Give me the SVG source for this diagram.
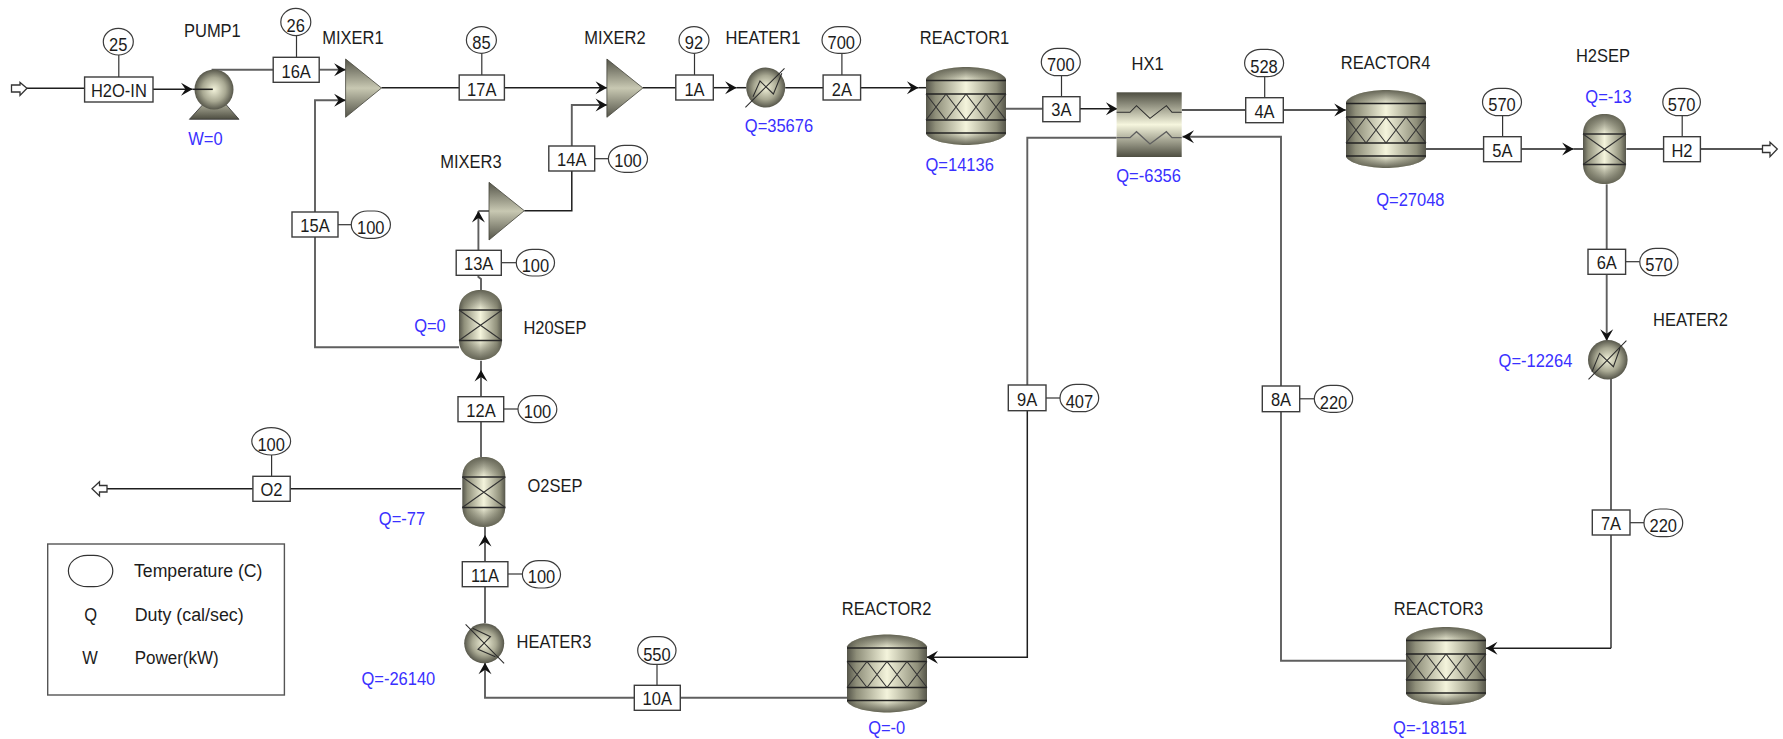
<svg xmlns="http://www.w3.org/2000/svg" xmlns:xlink="http://www.w3.org/1999/xlink" width="1783" height="739" viewBox="0 0 1783 739">
<style>
text{font-family:"Liberation Sans",Arial,sans-serif;font-size:16.5px;fill:#1c1c1c;transform-box:fill-box;transform-origin:center;transform:scale(1,1.1)}
.m{text-anchor:middle}
.q{text-anchor:middle;fill:#3a30ff}
.b{fill:#fff;stroke:#3c3c3c;stroke-width:1.4}
.o{fill:#fff;stroke:#3c3c3c;stroke-width:1.2}
.k,.g,.f{fill:none;stroke-linejoin:miter}
.k{stroke:#1e1e1e;stroke-width:1.5}
.g{stroke:#5f5f5f;stroke-width:1.9}
.f{stroke:#333;stroke-width:1.2}
.n{fill:none;stroke:#2c2c2c;stroke-width:1.05}
.a{fill:#fff;stroke:#333;stroke-width:1.3}
</style>
<defs>
<marker id="ah" viewBox="-13 -8 14 16" refX="0" refY="0" markerWidth="14" markerHeight="16" orient="auto" markerUnits="userSpaceOnUse"><path d="M0,0 L-11.5,-6.5 L-7,0 L-11.5,6.5 Z" fill="#111"/></marker>
<linearGradient id="h" x1="0" x2="1" y1="0" y2="0"><stop offset="0" stop-color="#55554a"/><stop offset=".12" stop-color="#8f8f7a"/><stop offset=".5" stop-color="#f4f4dc"/><stop offset=".88" stop-color="#8f8f7a"/><stop offset="1" stop-color="#55554a"/></linearGradient>
<linearGradient id="dt" x1="0" x2="0" y1="0" y2="1"><stop offset="0" stop-color="#5a5a4c" stop-opacity=".95"/><stop offset="1" stop-color="#5a5a4c" stop-opacity="0"/></linearGradient>
<linearGradient id="db" x1="0" x2="0" y1="1" y2="0"><stop offset="0" stop-color="#5a5a4c" stop-opacity=".95"/><stop offset="1" stop-color="#5a5a4c" stop-opacity="0"/></linearGradient>
<linearGradient id="v" x1="0" x2="0" y1="0" y2="1"><stop offset="0" stop-color="#4e4e42"/><stop offset=".5" stop-color="#f6f6de"/><stop offset="1" stop-color="#4e4e42"/></linearGradient>
<linearGradient id="pb" x1="0" x2="0" y1="0" y2="1"><stop offset="0" stop-color="#c4c4ae"/><stop offset="1" stop-color="#4e4e42"/></linearGradient>
<linearGradient id="tr" x1="0" x2="0" y1="0" y2="1"><stop offset="0" stop-color="#55554a"/><stop offset=".5" stop-color="#c8c8b2"/><stop offset="1" stop-color="#55554a"/></linearGradient>
<radialGradient id="r"><stop offset="0" stop-color="#f2f2da"/><stop offset=".6" stop-color="#a8a892"/><stop offset="1" stop-color="#57574b"/></radialGradient>
<g id="reactor">
<path d="M0,12 C4,4 24,0 40,0 C56,0 76,4 80,12 L80,67 C76,74 56,78 40,78 C24,78 4,74 0,67 Z" fill="url(#h)"/>
<path d="M0,12 C4,4 24,0 40,0 C56,0 76,4 80,12 L80,14 H0 Z" fill="url(#dt)"/>
<path d="M0,67 C4,74 24,78 40,78 C56,78 76,74 80,67 L80,66 H0 Z" fill="url(#db)"/>
<path d="M0,13.5 H80 M0,27 H80 M0,53 H80 M0,66 H80" stroke="#222" stroke-width="1.4" fill="none"/>
<path d="M0,27 L20,53 M20,27 L0,53 M20,27 L40,53 M40,27 L20,53 M40,27 L60,53 M60,27 L40,53 M60,27 L80,53 M80,27 L60,53" stroke="#333" stroke-width="1.1" fill="none"/>
</g>
<g id="vessel">
<path d="M0,20 C0,7 10,0 21.5,0 C33,0 43,7 43,20 L43,50 C43,63 33,70 21.5,70 C10,70 0,63 0,50 Z" fill="url(#h)"/>
<path d="M0,20 C0,7 10,0 21.5,0 C33,0 43,7 43,20 Z" fill="url(#dt)"/>
<path d="M0,50 C0,63 10,70 21.5,70 C33,70 43,63 43,50 Z" fill="url(#db)"/>
<path d="M0,20 H43 M0,50.5 H43" stroke="#2a2a2a" stroke-width="1.4" fill="none"/>
<path d="M0,20 L43,50.5 M43,20 L0,50.5" stroke="#333" stroke-width="1.1" fill="none"/>
</g>
</defs>

<g id="connectors">
<path class="k" d="M27,88.3 H84.6"/>
<path class="k" d="M153,89.3 H192.5" marker-end="url(#ah)"/>
<path class="g" d="M211.6,69.7 H273.2"/>
<path class="g" d="M319.2,69.7 H345.6" marker-end="url(#ah)"/>
<path class="g" d="M315,212 V100.3 H345.6" marker-end="url(#ah)"/>
<path class="g" d="M459,347.3 H315 V237"/>
<path class="k" d="M381.5,87.7 H459.2"/>
<path class="k" d="M504.4,87.7 H607" marker-end="url(#ah)"/>
<path class="g" d="M571.8,146 V105 H607" marker-end="url(#ah)"/>
<path class="k" d="M524.3,210.7 H571.8 V171"/>
<path class="g" d="M478.4,250.3 V211" marker-end="url(#ah)"/>
<path class="g" d="M478.4,211 H489"/>
<path class="g" d="M481,290 V279 L478.4,277 V275.3"/>
<path class="g" d="M481,396.7 V370" marker-end="url(#ah)"/>
<path class="g" d="M481,370 V360.7"/>
<path class="g" d="M481,421.7 V457.3"/>
<path class="k" d="M461,488.7 H290.2"/>
<path class="k" d="M252.9,488.7 H107"/>
<path class="g" d="M485,561.7 V535" marker-end="url(#ah)"/>
<path class="g" d="M485,535 V526"/>
<path class="g" d="M485,623.3 V586.7"/>
<path class="g" d="M634.3,697.7 H485 V662.7" marker-end="url(#ah)"/>
<path class="g" d="M847,697.7 H680.3"/>
<path class="k" d="M642.9,87.7 H675.8"/>
<path class="k" d="M713.3,87.7 H736.6" marker-end="url(#ah)"/>
<path class="k" d="M736.6,87.7 H746.2"/>
<path class="k" d="M785.2,87.7 H823.1"/>
<path class="k" d="M860.6,87.7 H918.4" marker-end="url(#ah)"/>
<path class="k" d="M918.4,87.7 H926"/>
<path class="g" d="M1006,108.7 H1042.8"/>
<path class="k" d="M1080,108.7 H1117.4" marker-end="url(#ah)"/>
<path class="k" d="M1181.7,110 H1245.7"/>
<path class="k" d="M1283.3,110 H1345.7" marker-end="url(#ah)"/>
<path class="g" d="M1281,386 V136.7 H1182.5" marker-end="url(#ah)"/>
<path class="g" d="M1116.6,137.7 H1027.3 V385"/>
<path class="k" d="M1027.3,410.7 V657.3 H926.5" marker-end="url(#ah)"/>
<path class="g" d="M1281,411.7 V660.7 H1407"/>
<path class="k" d="M1426,149 H1483.6"/>
<path class="k" d="M1521.2,149 H1573.6" marker-end="url(#ah)"/>
<path class="k" d="M1573.6,149 H1583"/>
<path class="k" d="M1626.4,149 H1663.6"/>
<path class="k" d="M1700.4,149 H1762.5"/>
<path class="g" d="M1606.7,184.3 V249.3"/>
<path class="g" d="M1606.7,274.3 V340.7" marker-end="url(#ah)"/>
<path class="g" d="M1611,379 V510"/>
<path class="g" d="M1611,535 V648.3"/>
<path class="k" d="M1611,648.3 H1486" marker-end="url(#ah)"/>
<!-- leaders -->
<path class="f" d="M118.8,55 V77"/>
<path class="f" d="M296.5,36 V57.3"/>
<path class="f" d="M481.8,53.3 V75"/>
<path class="f" d="M694.5,53.3 V75"/>
<path class="f" d="M841.9,53.3 V75"/>
<path class="f" d="M1061.5,75.7 V96.7"/>
<path class="f" d="M1264.7,76.7 V97.7"/>
<path class="f" d="M1502.6,115.7 V136.7"/>
<path class="f" d="M1682.2,115.7 V136.7"/>
<path class="f" d="M594.7,158.7 H608.4"/>
<path class="f" d="M338,224.7 H351.3"/>
<path class="f" d="M501.3,262.7 H516.3"/>
<path class="f" d="M503.7,409 H518"/>
<path class="f" d="M507.9,574 H522.4"/>
<path class="f" d="M271.6,455 V476.3"/>
<path class="f" d="M657,664.3 V685.3"/>
<path class="f" d="M1046,398 H1060"/>
<path class="f" d="M1299.7,398.8 H1314.3"/>
<path class="f" d="M1625.6,261.7 H1639.8"/>
<path class="f" d="M1630,522.7 H1644"/>
</g>

<g id="feed-in"><path class="a" d="M11.5,85 H20 V82.5 L27,88.3 L20,95.5 V92 H11.5 Z"/></g>
<g id="h2-out"><path class="a" d="M1762.5,145.5 H1770 V142.3 L1777.3,149 L1770,156.7 V152.5 H1762.5 Z"/></g>
<g id="o2-out"><path class="a" d="M107,485.5 H99.5 V481.7 L92,488.7 L99.5,496 V492 H107 Z"/></g>

<g id="PUMP1">
<path d="M189.4,119.3 L207,100 H222 L239,119.3 Z" fill="url(#pb)" stroke="#333" stroke-width=".8"/>
<ellipse cx="214" cy="89.5" rx="19.5" ry="20" fill="url(#r)"/>
<path class="k" d="M192.5,89.3 H212.8"/>
<text x="212.4" y="36" class="m">PUMP1</text><text x="205.5" y="144" class="q">W=0</text>
</g>
<g id="MIXER1"><path d="M345.6,59 L381.5,88 L345.6,117.3 Z" fill="url(#tr)" stroke="#44443a" stroke-width=".8"/><text x="353" y="43.3" class="m">MIXER1</text></g>
<g id="MIXER2"><path d="M606.9,59 L642.9,88 L606.9,117.3 Z" fill="url(#tr)" stroke="#44443a" stroke-width=".8"/><text x="615" y="43.3" class="m">MIXER2</text></g>
<g id="MIXER3"><path d="M489,182.3 L524.3,210.7 L489,240 Z" fill="url(#tr)" stroke="#44443a" stroke-width=".8"/><text x="471" y="167" class="m">MIXER3</text></g>
<g id="HEATER1">
<ellipse cx="765.7" cy="87.5" rx="19.5" ry="20" fill="url(#r)"/>
<path class="n" d="M745.4,107.3 L784.5,68.3 M753,96.7 L760,81 L773.4,94 L781.8,73.3"/>
<text x="763" y="43.3" class="m">HEATER1</text><text x="779" y="131" class="q">Q=35676</text>
</g>
<g id="HEATER2">
<ellipse cx="1607.8" cy="359.7" rx="19.8" ry="19.7" fill="url(#r)"/>
<path class="n" d="M1588.5,379.3 L1626.4,340.7 M1592,371.7 L1599.6,353.3 L1613.4,366.7 L1620,348.3"/>
<text x="1690.4" y="325" class="m">HEATER2</text><text x="1535.5" y="366" class="q">Q=-12264</text>
</g>
<g id="HEATER3">
<ellipse cx="484.2" cy="643.3" rx="20" ry="20" fill="url(#r)"/>
<path class="n" d="M465.6,624.3 L504.1,663.3 M472.6,628.3 L490.5,636.7 L478,649.3 L495.4,656.7"/>
<text x="554" y="647.7" class="m">HEATER3</text><text x="398.4" y="684.3" class="q">Q=-26140</text>
</g>
<g id="REACTOR1"><use href="#reactor" x="926" y="67"/><text x="964.5" y="43.3" class="m">REACTOR1</text><text x="959.7" y="170.7" class="q">Q=14136</text></g>
<g id="REACTOR4"><use href="#reactor" x="1346" y="90"/><text x="1385.6" y="68.3" class="m">REACTOR4</text><text x="1410.4" y="205.3" class="q">Q=27048</text></g>
<g id="REACTOR2"><use href="#reactor" x="847" y="634.5"/><text x="886.6" y="614" class="m">REACTOR2</text><text x="886.7" y="733.3" class="q">Q=-0</text></g>
<g id="REACTOR3"><use href="#reactor" x="1406" y="627"/><text x="1438.5" y="614" class="m">REACTOR3</text><text x="1430" y="733.3" class="q">Q=-18151</text></g>
<g id="H2SEP"><use href="#vessel" x="1583" y="114"/><text x="1603" y="61" class="m">H2SEP</text><text x="1608.5" y="102" class="q">Q=-13</text></g>
<g id="H20SEP"><use href="#vessel" x="459" y="290"/><text x="555" y="333.3" class="m">H20SEP</text><text x="430" y="331" class="q">Q=0</text></g>
<g id="O2SEP"><use href="#vessel" x="462.3" y="457"/><text x="555" y="491" class="m">O2SEP</text><text x="402" y="524" class="q">Q=-77</text></g>
<g id="HX1">
<rect x="1116.6" y="92.3" width="65.1" height="64.7" fill="url(#v)"/>
<path class="n" d="M1116.6,112.3 H1130 L1136.5,105.7 L1150,118.3 L1166.4,105.7 L1172,112.3 H1181.7"/>
<path class="g" d="M1116.6,137.7 H1130 L1136.5,131.7 L1150,144 L1166.4,131.7 L1172,137.7 H1181.7" style="stroke-width:1.3"/>
<text x="1147.6" y="69" class="m">HX1</text><text x="1148.6" y="181.7" class="q">Q=-6356</text>
</g>

<g id="stream-H2O-IN"><rect class="b" x="84.6" y="77" width="68.4" height="25"/><text x="118.9" y="96" class="m">H2O-IN</text><ellipse class="o" cx="118.3" cy="41.7" rx="15" ry="13.3"/><text x="118.3" y="50.7" class="m">25</text></g>
<g id="stream-16A"><rect class="b" x="273.2" y="57.3" width="46" height="25"/><text x="296.2" y="77" class="m">16A</text><ellipse class="o" cx="295.8" cy="22" rx="15" ry="13.6"/><text x="295.8" y="31" class="m">26</text></g>
<g id="stream-17A"><rect class="b" x="459.2" y="75" width="45.2" height="25"/><text x="481.8" y="95" class="m">17A</text><ellipse class="o" cx="481.4" cy="40" rx="15" ry="13.3"/><text x="481.4" y="48.5" class="m">85</text></g>
<g id="stream-1A"><rect class="b" x="675.8" y="75" width="37.5" height="25"/><text x="694.5" y="95" class="m">1A</text><ellipse class="o" cx="694" cy="40" rx="15" ry="13.3"/><text x="694" y="48.5" class="m">92</text></g>
<g id="stream-2A"><rect class="b" x="823.1" y="75" width="37.5" height="25"/><text x="841.9" y="95" class="m">2A</text><rect class="o" x="822" y="26.7" width="38.6" height="26.6" rx="16" ry="13.3"/><text x="841.3" y="48.5" class="m">700</text></g>
<g id="stream-3A"><rect class="b" x="1042.8" y="96.7" width="37.2" height="25"/><text x="1061.4" y="115.7" class="m">3A</text><rect class="o" x="1041.3" y="48.3" width="39" height="27.4" rx="16" ry="13.7"/><text x="1060.8" y="70" class="m">700</text></g>
<g id="stream-4A"><rect class="b" x="1245.7" y="97.7" width="37.6" height="25"/><text x="1264.5" y="117.3" class="m">4A</text><rect class="o" x="1244.6" y="49.3" width="39" height="27.4" rx="16" ry="13.7"/><text x="1264" y="72.3" class="m">528</text></g>
<g id="stream-5A"><rect class="b" x="1483.6" y="136.7" width="37.6" height="25"/><text x="1502.4" y="156" class="m">5A</text><rect class="o" x="1482.5" y="88.3" width="39" height="27.4" rx="16" ry="13.7"/><text x="1502" y="110.7" class="m">570</text></g>
<g id="stream-H2"><rect class="b" x="1663.6" y="136.7" width="36.8" height="25"/><text x="1682" y="156" class="m">H2</text><rect class="o" x="1662.8" y="88.3" width="37.6" height="27.4" rx="16" ry="13.7"/><text x="1681.6" y="110.7" class="m">570</text></g>
<g id="stream-6A"><rect class="b" x="1588" y="249.3" width="37.6" height="25"/><text x="1606.8" y="268.7" class="m">6A</text><rect class="o" x="1639.8" y="248.3" width="38.2" height="27.4" rx="16" ry="13.7"/><text x="1659" y="270.7" class="m">570</text></g>
<g id="stream-7A"><rect class="b" x="1592.3" y="510" width="37.7" height="25"/><text x="1611" y="529.3" class="m">7A</text><rect class="o" x="1644" y="509" width="38.7" height="27.7" rx="16" ry="13.8"/><text x="1663.3" y="531.7" class="m">220</text></g>
<g id="stream-8A"><rect class="b" x="1262.3" y="386" width="37.4" height="25.7"/><text x="1281" y="405.5" class="m">8A</text><rect class="o" x="1314.3" y="385.3" width="38.4" height="27" rx="16" ry="13.5"/><text x="1333.5" y="408.3" class="m">220</text></g>
<g id="stream-9A"><rect class="b" x="1008.3" y="385" width="37.7" height="25.7"/><text x="1027.2" y="405" class="m">9A</text><rect class="o" x="1060" y="384.3" width="38.7" height="27.4" rx="16" ry="13.7"/><text x="1079.4" y="407.3" class="m">407</text></g>
<g id="stream-10A"><rect class="b" x="634.3" y="685.3" width="46" height="25"/><text x="657.3" y="704.3" class="m">10A</text><rect class="o" x="637.7" y="636.7" width="38.3" height="27.6" rx="16" ry="13.8"/><text x="656.9" y="660" class="m">550</text></g>
<g id="stream-11A"><rect class="b" x="462.3" y="561.7" width="45.6" height="25"/><text x="485" y="581" class="m">11A</text><rect class="o" x="522.4" y="560.7" width="38.1" height="27.3" rx="16" ry="13.6"/><text x="541.5" y="582.7" class="m">100</text></g>
<g id="stream-12A"><rect class="b" x="458" y="396.7" width="45.7" height="25"/><text x="481" y="416" class="m">12A</text><rect class="o" x="518" y="395.7" width="38.8" height="27" rx="16" ry="13.5"/><text x="537.5" y="417.7" class="m">100</text></g>
<g id="stream-13A"><rect class="b" x="456.2" y="250.3" width="45.1" height="25"/><text x="478.7" y="269.3" class="m">13A</text><rect class="o" x="516.3" y="249.3" width="38.2" height="26.7" rx="16" ry="13.3"/><text x="535.4" y="271.7" class="m">100</text></g>
<g id="stream-14A"><rect class="b" x="548.8" y="146" width="45.9" height="25"/><text x="571.8" y="165.7" class="m">14A</text><rect class="o" x="608.4" y="145.3" width="39.1" height="27" rx="16" ry="13.5"/><text x="628" y="166.7" class="m">100</text></g>
<g id="stream-15A"><rect class="b" x="292" y="212" width="46" height="25"/><text x="315" y="231.7" class="m">15A</text><rect class="o" x="351.3" y="211" width="39.1" height="27.3" rx="16" ry="13.6"/><text x="370.8" y="233.3" class="m">100</text></g>
<g id="stream-O2"><rect class="b" x="252.9" y="476.3" width="37.3" height="25"/><text x="271.5" y="495" class="m">O2</text><ellipse class="o" cx="271.2" cy="441.3" rx="19.4" ry="13.7"/><text x="271.2" y="450" class="m">100</text></g>

<g id="legend">
<rect x="47.7" y="544" width="236.7" height="151" fill="#fff" stroke="#555" stroke-width="1.4"/>
<rect x="68.4" y="555.3" width="44.4" height="31.4" rx="19" ry="15.7" fill="#fff" stroke="#333" stroke-width="1.2"/>
<text x="134" y="576.7" textLength="128.5" lengthAdjust="spacingAndGlyphs">Temperature (C)</text>
<text x="90.6" y="620.7" class="m">Q</text>
<text x="134.7" y="620.7" textLength="109" lengthAdjust="spacingAndGlyphs">Duty (cal/sec)</text>
<text x="90" y="663.3" class="m">W</text>
<text x="134.7" y="663.3" textLength="84" lengthAdjust="spacingAndGlyphs">Power(kW)</text>
</g>
</svg>
